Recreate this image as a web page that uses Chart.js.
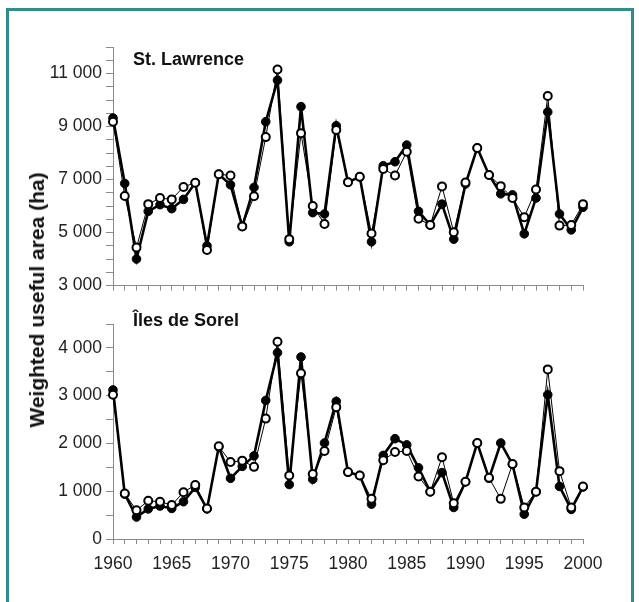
<!DOCTYPE html>
<html>
<head>
<meta charset="utf-8">
<script src="https://cdn.jsdelivr.net/npm/chart.js@4.4.1/dist/chart.umd.min.js"></script>
<style>
  html, body { margin: 0; padding: 0; background: #fff; }
  body { width: 639px; height: 602px; position: relative; overflow: hidden; font-family: "Liberation Sans", Arial, sans-serif; }
  #frame { position: absolute; left: 6px; top: 8px; width: 628px; height: 640px; border: 3px solid #2f8d8d; border-bottom: none; box-sizing: border-box; }
  .box { position: absolute; left: 0; width: 639px; }
  .panelTitle { position: absolute; left: 133px; font-weight: bold; font-size: 18px; color: #111; }
  #yTitle { position: absolute; left: 37px; top: 300px; transform: translate(-50%, -50%) rotate(-90deg); white-space: nowrap; font-weight: bold; font-size: 21px; color: #111; }
</style>
</head>
<body>
<div id="frame"></div>
<div class="box" style="top:0;height:300px"><canvas id="stLawrence" width="639" height="300"></canvas></div>
<div class="box" style="top:300px;height:302px"><canvas id="sorel" width="639" height="302"></canvas></div>
<div class="panelTitle" style="top:49px">St. Lawrence</div>
<div class="panelTitle" style="top:310px">Îles de Sorel</div>
<div id="yTitle">Weighted useful area (ha)</div>
<script>
const years = [1960, 1961, 1962, 1963, 1964, 1965, 1966, 1967, 1968, 1969,
  1970, 1971, 1972, 1973, 1974, 1975, 1976, 1977, 1978, 1979,
  1980, 1981, 1982, 1983, 1984, 1985, 1986, 1987, 1988, 1989,
  1990, 1991, 1992, 1993, 1994, 1995, 1996, 1997, 1998, 1999, 2000];

const stLawrenceFilled = [9320, 6850, 4000, 5800, 6050, 5900, 6250, 6880, 4500, 7200,
  6800, 5230, 6700, 9180, 10750, 4650, 9750, 5750, 5700, 9030,
  6900, 7100, 4650, 7520, 7670, 8300, 5800, 5280, 6070, 4750,
  6830, 8190, 7170, 6460, 6420, 4950, 6300, 9550, 5700, 5100, 5950];
const stLawrenceOpen = [9180, 6380, 4430, 6070, 6300, 6250, 6720, 6880, 4340, 7200,
  7150, 5230, 6370, 8600, 11150, 4750, 8750, 6000, 5320, 8870,
  6900, 7100, 4960, 7400, 7150, 8050, 5520, 5280, 6740, 5010,
  6890, 8190, 7170, 6750, 6300, 5580, 6620, 10150, 5260, 5280, 6070];

const sorelFilled = [3120, 940, 460, 630, 690, 640, 780, 1080, 630, 1930,
  1270, 1520, 1740, 2900, 3900, 1140, 3810, 1250, 2010, 2880,
  1400, 1330, 730, 1750, 2100, 1970, 1490, 990, 1390, 660,
  1200, 2010, 1270, 2010, 1560, 520, 990, 3020, 1100, 620, 1090];
const sorelOpen = [3020, 950, 600, 800, 780, 710, 980, 1130, 640, 1940,
  1610, 1640, 1510, 2520, 4130, 1330, 3470, 1360, 1840, 2760,
  1400, 1330, 840, 1650, 1820, 1840, 1310, 990, 1710, 750,
  1200, 2010, 1280, 840, 1570, 660, 990, 3550, 1420, 660, 1100];

const axisGray = "#8a8a8a";
const textColor = "#222";

function fmt(v) {
  if (v < 1000) return String(v);
  const rest = String(v % 1000).padStart(3, "0");
  return Math.floor(v / 1000) + " " + rest;
}

function points(values) {
  return values.map((v, i) => ({ x: years[i], y: v }));
}

function datasets(filled, open) {
  return [
    {
      label: "open",
      data: points(open),
      borderColor: "#000",
      borderWidth: 1,
      pointRadius: 4,
      pointBorderWidth: 2,
      pointBackgroundColor: "#fff",
      pointBorderColor: "#000",
      clip: false,
      order: 0,
    },
    {
      label: "filled",
      data: points(filled),
      borderColor: "#000",
      borderWidth: 2.6,
      pointRadius: 4.3,
      pointBorderWidth: 1,
      pointBackgroundColor: "#000",
      pointBorderColor: "#000",
      clip: false,
      order: 1,
    },
  ];
}

function makeChart(id, filled, open, yMin, yMax, labelEvery, showYears, padding) {
  return new Chart(document.getElementById(id), {
    type: "line",
    data: { datasets: datasets(filled, open) },
    options: {
      responsive: false,
      animation: false,
      layout: { padding: padding },
      plugins: { legend: { display: false }, tooltip: { enabled: false } },
      scales: {
        x: {
          type: "linear",
          min: 1960,
          max: 2000,
          grid: { drawOnChartArea: false, drawTicks: true, tickLength: 5, color: axisGray },
          border: { color: axisGray, width: 1 },
          ticks: {
            stepSize: 1,
            autoSkip: false,
            maxRotation: 0,
            maxTicksLimit: 100,
            padding: 10,
            color: textColor,
            font: { family: "'Liberation Sans', Arial, sans-serif", size: 17.5 },
            callback: function (value) {
              return showYears && value % 5 === 0 ? String(value) : "";
            },
          },
          afterFit: function (scale) {
            scale.height = showYears ? 40 : 8;
          },
        },
        y: {
          min: yMin,
          max: yMax,
          grid: { drawOnChartArea: false, drawTicks: true, tickLength: 7, color: axisGray },
          border: { color: axisGray, width: 1 },
          ticks: {
            stepSize: 500,
            autoSkip: false,
            maxTicksLimit: 100,
            padding: 4,
            color: textColor,
            font: { family: "'Liberation Sans', Arial, sans-serif", size: 17.5 },
            callback: function (value) {
              return (value - yMin) % labelEvery === 0 ? fmt(value) : "";
            },
          },
          afterFit: function (scale) {
            scale.width = 73;
          },
        },
      },
    },
  });
}

makeChart("stLawrence", stLawrenceFilled, stLawrenceOpen, 3000, 12000, 2000, false,
  { left: 40, right: 56, top: 47, bottom: 4 });
makeChart("sorel", sorelFilled, sorelOpen, 0, 4500, 1000, true,
  { left: 40, right: 56, top: 24, bottom: 23 });
</script>
</body>
</html>
